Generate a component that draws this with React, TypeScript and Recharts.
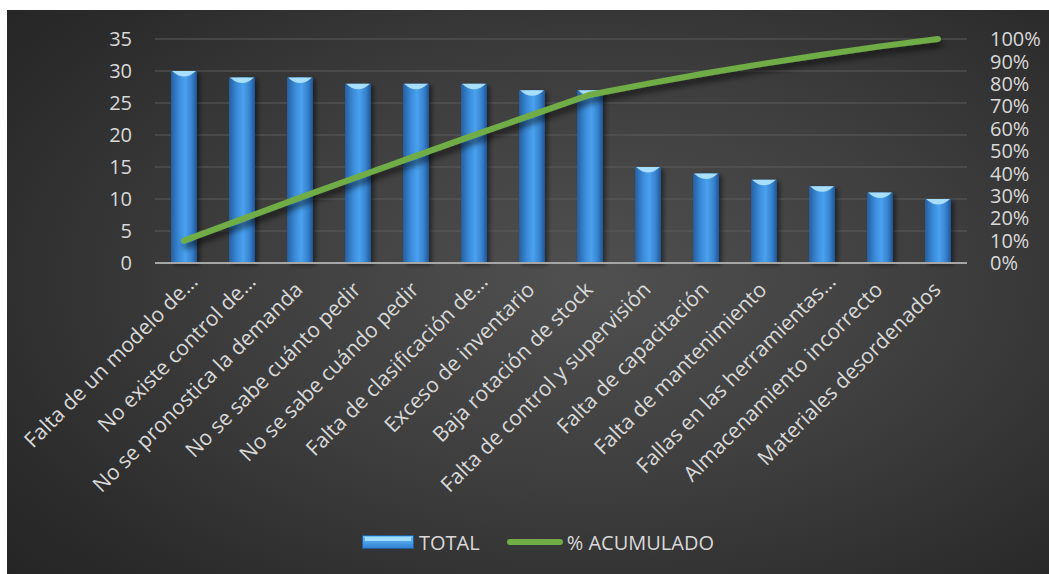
import {
  Bar, CartesianGrid, ComposedChart, Legend, Line, XAxis, YAxis,
} from "recharts";

const categories = [
  "Falta de un modelo de…",
  "No existe control de…",
  "No se pronostica la demanda",
  "No se sabe cuánto pedir",
  "No se sabe cuándo pedir",
  "Falta de clasificación de…",
  "Exceso de inventario",
  "Baja rotación de stock",
  "Falta de control y supervisión",
  "Falta de capacitación",
  "Falta de mantenimiento",
  "Fallas en las herramientas…",
  "Almacenamiento incorrecto",
  "Materiales desordenados",
];
const totals = [30, 29, 29, 28, 28, 28, 27, 27, 15, 14, 13, 12, 11, 10];
const cumulative = [0.1, 0.196, 0.292, 0.385, 0.478, 0.571, 0.661, 0.751, 0.801, 0.847, 0.89, 0.93, 0.967, 1.0];
const leftTicks = [0, 5, 10, 15, 20, 25, 30, 35];
const rightTicks = [0, 0.1, 0.2, 0.3, 0.4, 0.5, 0.6, 0.7, 0.8, 0.9, 1];

const data = categories.map((name, i) => ({ name, total: totals[i], acc: cumulative[i] }));

const FONT = "'Open Sans', 'DejaVu Sans', sans-serif";
const TEXT = "#d9d9d9";
const GREEN = "#70ad47";

function CatTick(props: any) {
  const { x, y, payload } = props;
  const label: string = payload.value;
  const cut = label.endsWith("…");
  const tx = x + (cut ? 15 : 4);
  const ty = y + (cut ? 20 : 28);
  return (
    <text
      x={tx} y={ty} transform={`rotate(-45 ${tx} ${ty})`}
      textAnchor="end" fill={TEXT} fontSize={21} fontFamily={FONT}
    >
      {label}
    </text>
  );
}

function CylBar(props: any) {
  const { x, y, width, height } = props;
  if (!height) return null;
  return (
    <g filter="url(#barShadow)">
      <rect x={x} y={y} width={width} height={height} fill="url(#barGrad)" />
      <path
        d={`M${x + 1},${y} L${x + width - 1},${y} Q${x + width / 2},${y + 11} ${x + 1},${y} Z`}
        fill="#aee3ff" opacity={0.95}
      />
    </g>
  );
}

function LegendContent() {
  return (
    <div
      style={{
        height: 30, display: "flex", alignItems: "center", justifyContent: "center",
        paddingLeft: 20, fontFamily: FONT, fontSize: 20, color: TEXT,
      }}
    >
      <svg width={52} height={14} style={{ marginRight: 5 }}>
        <rect x={0.5} y={0.5} width={51} height={13} fill="url(#legGrad)" stroke="#1f5c9c" />
        <rect x={3} y={2} width={46} height={4} fill="#a8e0ff" opacity={0.9} />
      </svg>
      <span style={{ marginRight: 26 }}>TOTAL</span>
      <svg width={58} height={10} style={{ marginRight: 3 }}>
        <line x1={4} y1={5} x2={54} y2={5} stroke={GREEN} strokeWidth={6} strokeLinecap="round" />
      </svg>
      <span>% ACUMULADO</span>
      <svg width={0} height={0} style={{ position: "absolute" }}>
        <defs>
          <linearGradient id="legGrad" x1="0" y1="0" x2="0" y2="1">
            <stop offset="0%" stopColor="#6fc2ff" />
            <stop offset="100%" stopColor="#2f7fd0" />
          </linearGradient>
        </defs>
      </svg>
    </div>
  );
}

export default function App() {
  return (
    <div style={{ position: "absolute", left: 0, top: 0, width: 1049, height: 574, background: "#fff" }}>
      <div
        style={{
          position: "absolute", left: 7, top: 10, width: 1042, height: 564,
          background: "radial-gradient(ellipse 75% 80% at 56% 48%, #505050 0%, #3e3e3e 45%, #2a2a2a 85%, #252525 100%)",
        }}
      >
        <ComposedChart
          width={1042} height={564} data={data}
          margin={{ top: 29, right: 12, bottom: 17, left: 88 }}
        >
          <defs>
            <linearGradient id="barGrad" x1="0" y1="0" x2="1" y2="0">
              <stop offset="0%" stopColor="#245f9f" />
              <stop offset="30%" stopColor="#3a8ad8" />
              <stop offset="55%" stopColor="#4aa2ee" />
              <stop offset="80%" stopColor="#3782cf" />
              <stop offset="100%" stopColor="#1f5594" />
            </linearGradient>
            <filter id="barShadow" x="-30%" y="-10%" width="160%" height="120%">
              <feDropShadow dx={3} dy={2} stdDeviation={2} floodColor="#000" floodOpacity={0.45} />
            </filter>
            <filter id="lineShadow" x="-10%" y="-20%" width="120%" height="160%">
              <feDropShadow dx={2} dy={5} stdDeviation={3} floodColor="#000" floodOpacity={0.6} />
            </filter>
          </defs>
          <CartesianGrid yAxisId="l" vertical={false} stroke="#5c5c5c" strokeWidth={1.2} />
          <XAxis
            dataKey="name" interval={0} height={264} tickSize={0} tickMargin={0}
            tick={<CatTick />} axisLine={{ stroke: "#a6a6a6", strokeWidth: 2 }} tickLine={false}
          />
          <YAxis
            yAxisId="l" domain={[0, 35]} ticks={leftTicks} width={60} interval={0}
            axisLine={false} tickLine={false} tickSize={0} tickMargin={23}
            tick={{ fill: TEXT, fontSize: 20, fontFamily: FONT }}
          />
          <YAxis
            yAxisId="r" orientation="right" domain={[0, 1]} ticks={rightTicks} width={70} interval={0}
            axisLine={false} tickLine={false} tickSize={0} tickMargin={23}
            tick={{ fill: TEXT, fontSize: 20, fontFamily: FONT, textAnchor: "start" }}
            tickFormatter={(v: number) => `${Math.round(v * 100)}%`}
          />
          <Bar
            yAxisId="l" dataKey="total" name="TOTAL" barSize={26}
            fill="#3a8ad8" shape={<CylBar />} isAnimationActive={false}
          />
          <Line
            yAxisId="r" dataKey="acc" name="% ACUMULADO" type="linear" stroke={GREEN}
            strokeWidth={6} strokeLinecap="round" dot={false} activeDot={false}
            filter="url(#lineShadow)" isAnimationActive={false}
          />
          <Legend
            verticalAlign="bottom" height={30} content={<LegendContent />}
            wrapperStyle={{ left: 0, width: 1042 }}
          />
        </ComposedChart>
      </div>
    </div>
  );
}
